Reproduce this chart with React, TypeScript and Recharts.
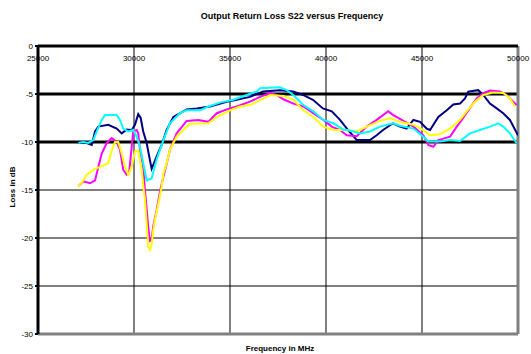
import React from "react"
import { LineChart, Line, XAxis, YAxis, CartesianGrid, ReferenceLine } from "recharts"

const freqTicks = [25000, 30000, 35000, 40000, 45000, 50000]
const lossTicks = [0, -5, -10, -15, -20, -25, -30]

// sweep 1 (navy)
const navyFreq = [
  27080, 27540, 27800, 27970, 28140, 28660, 29100, 29360, 29620, 29880,
  30050, 30220, 30350, 30480, 30660, 30830, 30920, 31180, 31440, 31700,
  32050, 32750, 33270, 33960, 34830, 35350, 36040, 36720, 37600, 38280,
  38800, 39320, 39840, 40300, 40730, 41150, 41600, 42290, 42640, 42970,
  43490, 43850, 44200, 44550, 44900, 45240, 45420, 45850, 46290, 46630,
  46980, 47240, 47410, 47930, 48190, 48540, 48890, 49230, 49580, 50000
]
const navyLoss = [
  -10.1, -10.1, -10.3, -8.9, -8.4, -8.2, -8.6, -9.1, -8.7, -8.75,
  -8.2, -7.1, -7.5, -8.9, -10.1, -11.9, -12.8, -11.5, -10.3, -8.75,
  -7.4, -6.6, -6.5, -6.3, -5.8, -5.6, -5.3, -4.75, -4.6, -4.75,
  -5.1, -5.6, -6.5, -6.8, -7.7, -8.75, -9.8, -9.8, -9.3, -8.75,
  -8.05, -8.4, -8.6, -7.7, -7.9, -8.6, -8.75, -7.4, -6.7, -6.1,
  -6.0, -5.45, -4.75, -4.6, -5.1, -6.0, -6.5, -7.0, -7.7, -9.3
]

// sweep 2 (magenta)
const magentaFreq = [
  27100, 27360, 27710, 27970, 28140, 28320, 28580, 28840, 29100, 29270,
  29440, 29620, 29750, 29880, 29960, 30140, 30220, 30310, 30480, 30570,
  30660, 30740, 30830, 30920, 31000, 31180, 31350, 31530, 31700, 31870,
  32220, 32740, 33350, 33870, 34310, 34830, 35350, 36040, 36560, 37080,
  37430, 37780, 38300, 38820, 39340, 39860, 40300, 40730, 41080, 41600,
  42120, 42640, 43240, 43500, 43850, 44550, 45070, 45330, 45590, 45850,
  46460, 46810, 47070, 47410, 47850, 48190, 48540, 49060, 49410, 49750,
  49930
]
const magentaLoss = [
  -14.6, -14.1, -14.3, -14.0, -12.6, -11.2, -10.1, -9.6, -10.0, -10.8,
  -12.9, -13.4, -13.1, -10.5, -8.9, -8.75, -9.1, -10.8, -12.6, -15.0,
  -17.0, -18.8, -20.3, -20.2, -18.8, -17.1, -15.2, -13.6, -12.3, -10.8,
  -9.1, -7.8, -7.7, -7.9, -7.0, -6.6, -6.3, -5.8, -5.3, -4.9,
  -5.1, -5.55, -6.0, -6.3, -7.0, -7.7, -8.4, -8.75, -9.3, -9.4,
  -8.4, -7.7, -6.8, -7.2, -7.6, -8.4, -9.3, -10.3, -10.5, -9.8,
  -9.45, -8.4, -7.7, -6.7, -5.45, -4.9, -4.65, -4.75, -5.1, -5.8,
  -6.15
]

// sweep 3 (yellow)
const yellowFreq = [
  27100, 27360, 27540, 27880, 28230, 28660, 28840, 29010, 29180, 29360,
  29530, 29700, 29880, 30050, 30220, 30400, 30480, 30570, 30660, 30740,
  30830, 30920, 31000, 31090, 31270, 31440, 31530, 31700, 31870, 32220,
  32570, 32920, 33870, 34310, 35000, 35520, 36040, 36390, 36910, 37080,
  37780, 38300, 38820, 39340, 39860, 40380, 41080, 41600, 42120, 42810,
  43330, 43850, 44550, 45070, 45420, 45940, 46460, 46980, 47330, 47760,
  48190, 48710, 49230, 49580, 49840
]
const yellowLoss = [
  -14.65, -14.0, -13.4, -12.9, -12.6, -12.2, -10.9, -10.0, -10.0, -11.2,
  -12.6, -13.4, -12.6, -11.0, -10.9, -12.9, -14.5, -16.0, -18.5, -20.9,
  -21.25, -20.7, -19.2, -18.1, -16.4, -14.65, -13.3, -12.2, -10.8, -9.45,
  -8.75, -8.1, -8.05, -7.4, -6.7, -6.3, -6.15, -5.8, -5.3, -5.1,
  -5.2, -5.6, -6.7, -7.4, -8.4, -8.75, -8.75, -8.9, -8.4, -7.8,
  -7.5, -7.9, -8.2, -8.75, -9.3, -9.2, -8.6, -7.7, -6.8, -5.8,
  -5.1, -4.85, -4.9, -5.45, -6.3
]

// sweep 4 (cyan)
const cyanFreq = [
  27100, 27360, 27620, 27880, 28060, 28320, 28490, 29100, 29270, 29440,
  29700, 29960, 30140, 30310, 30480, 30660, 30920, 31180, 31530, 31870,
  32400, 32740, 33440, 33870, 34480, 35170, 35870, 36390, 36560, 37600,
  37950, 38300, 38820, 39340, 39860, 40380, 40900, 41250, 41770, 42290,
  42810, 43500, 43850, 44550, 45070, 45330, 45940, 46460, 46980, 47500,
  48020, 48540, 48970, 49230, 49580, 49920
]
const cyanLoss = [
  -10.1, -10.0, -10.1, -9.8, -8.9, -7.7, -7.2, -7.2, -7.7, -8.6,
  -8.9, -8.75, -9.45, -10.5, -12.2, -14.0, -13.8, -11.8, -9.8, -8.05,
  -7.0, -6.7, -6.7, -6.3, -5.9, -5.6, -5.1, -4.75, -4.4, -4.3,
  -4.6, -5.1, -6.15, -6.8, -7.7, -8.05, -8.7, -8.8, -9.1, -8.9,
  -8.4, -8.05, -8.3, -8.6, -9.45, -9.95, -9.95, -9.8, -9.9, -9.1,
  -8.75, -8.4, -8.05, -8.4, -9.1, -10.1
]

const toPoints = (freq: number[], loss: number[]) =>
  freq.map((f, i) => ({ freq: f, loss: loss[i] }))

const series = [
  { name: "navy", color: "#000080", data: toPoints(navyFreq, navyLoss) },
  { name: "magenta", color: "#ff00ff", data: toPoints(magentaFreq, magentaLoss) },
  { name: "yellow", color: "#ffff00", data: toPoints(yellowFreq, yellowLoss) },
  { name: "cyan", color: "#00ffff", data: toPoints(cyanFreq, cyanLoss) }
]

const FONT = "'Liberation Sans', Arial, sans-serif"

// x labels sit just under the 0 dB line
const FreqTick = (props: any) => {
  const { x, payload } = props
  return (
    <text x={x} y={61} textAnchor="middle" fontSize={8} fontFamily={FONT} fill="#000">
      {payload.value}
    </text>
  )
}

export default function App() {
  return (
    <div
      style={{
        position: "absolute",
        left: 0,
        top: 0,
        width: 531,
        height: 354,
        background: "#fff",
        fontFamily: FONT
      }}
    >
      <div
        style={{
          position: "absolute",
          top: 11,
          left: 0,
          width: 584,
          textAlign: "center",
          fontSize: 9,
          fontWeight: "bold"
        }}
      >
        Output Return Loss S22 versus Frequency
      </div>
      <div
        style={{
          position: "absolute",
          left: 12,
          top: 187,
          transform: "translate(-50%, -50%) rotate(-90deg)",
          fontSize: 8,
          fontWeight: "bold",
          whiteSpace: "nowrap"
        }}
      >
        Loss in dB
      </div>
      <div
        style={{
          position: "absolute",
          top: 344,
          left: 0,
          width: 560,
          textAlign: "center",
          fontSize: 8,
          fontWeight: "bold"
        }}
      >
        Frequency in MHz
      </div>
      <LineChart
        width={531}
        height={354}
        margin={{ top: 36, right: 13, left: 0, bottom: 20 }}
        style={{ position: "absolute", left: 0, top: 0 }}
      >
        <CartesianGrid stroke="#000" strokeWidth={1} />
        <XAxis
          dataKey="freq"
          type="number"
          orientation="top"
          domain={[25000, 50000]}
          ticks={freqTicks}
          interval={0}
          allowDataOverflow
          height={10}
          tickLine={false}
          tick={<FreqTick />}
          axisLine={{ stroke: "#000", strokeWidth: 3 }}
        />
        <YAxis
          type="number"
          domain={[-30, 0]}
          ticks={lossTicks}
          width={38}
          tickSize={3}
          tickMargin={2}
          tick={{ fontSize: 8, fill: "#000", fontFamily: FONT }}
          tickLine={{ stroke: "#000", strokeWidth: 2 }}
          axisLine={{ stroke: "#000", strokeWidth: 3 }}
        />
        <ReferenceLine y={-5} stroke="#000" strokeWidth={3} />
        <ReferenceLine y={-10} stroke="#000" strokeWidth={3} />
        <ReferenceLine y={-30} stroke="#808080" strokeWidth={3} />
        <ReferenceLine x={50000} stroke="#808080" strokeWidth={3} />
        {series.map(s => (
          <Line
            key={s.name}
            data={s.data}
            dataKey="loss"
            type="linear"
            stroke={s.color}
            strokeWidth={2}
            dot={false}
            isAnimationActive={false}
          />
        ))}
      </LineChart>
    </div>
  )
}
